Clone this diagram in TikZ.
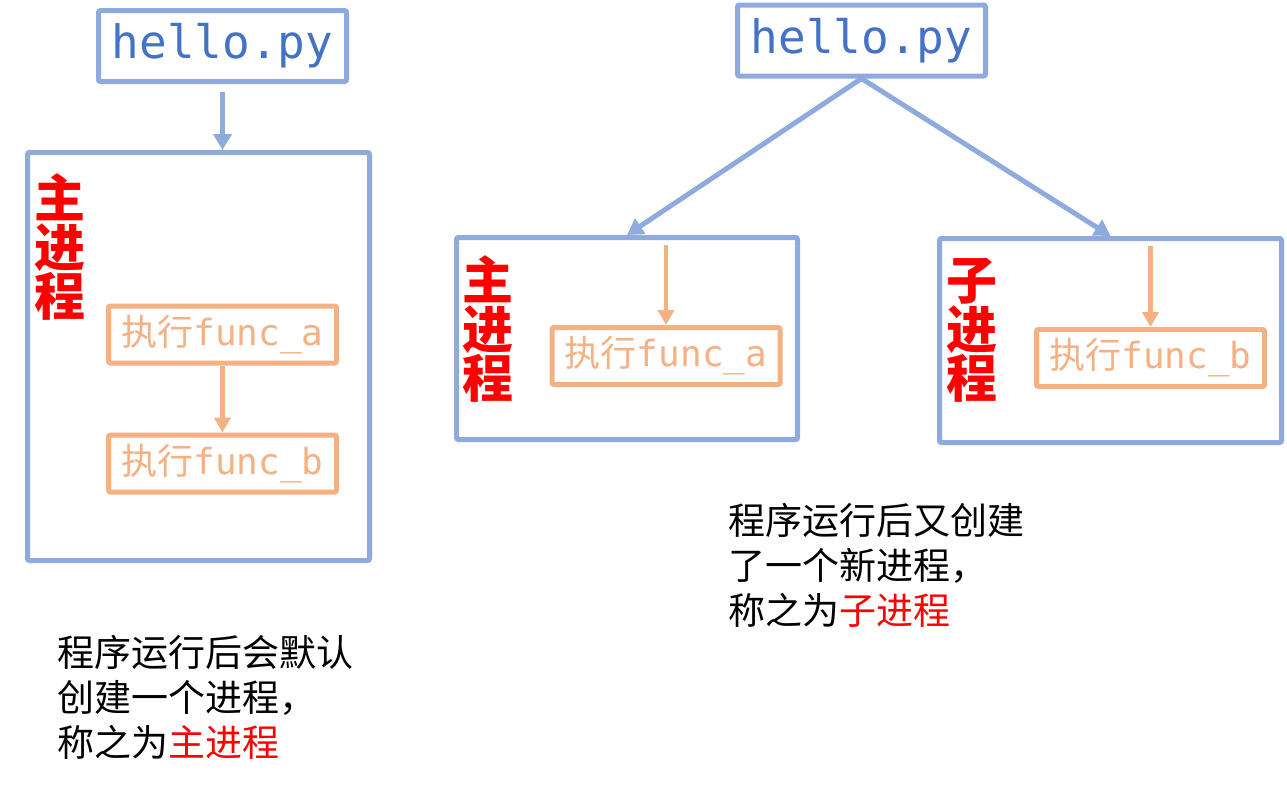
\documentclass[tikz,border=0pt]{standalone}
\usepackage{fontspec}
\setmonofont{DejaVu Sans Mono}
\newfontfamily\cjk{Noto Sans CJK SC}
\usetikzlibrary{arrows.meta}
\definecolor{bblue}{HTML}{8FAADC}
\definecolor{tblue}{HTML}{4472C4}
\definecolor{orng}{HTML}{F4B183}
\definecolor{pred}{HTML}{FF0000}
\begin{document}
\begin{tikzpicture}[x=1pt,y=-1pt,
 pbox/.style={draw=bblue, line width=5pt, rounded corners=2pt, inner sep=0pt},
 hbox/.style={pbox, minimum width=248pt, minimum height=71pt, font=\ttfamily\fontsize{46}{46}\selectfont, text=tblue},
 fnbox/.style={draw=orng, line width=5pt, rounded corners=2pt, inner sep=0pt, minimum width=228pt, minimum height=57pt, text=orng, font=\fontsize{36}{36}\selectfont},
 barrow/.style={draw=bblue, line width=5pt, -{Triangle[length=16pt,width=18pt]}},
 oarrow/.style={draw=orng, line width=4.5pt, -{Triangle[length=15pt,width=16pt]}},
 plabel/.style={text=pred, font=\cjk\bfseries\fontsize{51}{49}\selectfont, align=center, inner sep=0pt},
 note/.style={font=\cjk\fontsize{37}{45}\selectfont, align=left, inner sep=0pt, anchor=north west},
]
\useasboundingbox[fill=white] (0,0) rectangle (1287,788);

% left part
\node[hbox] (h1) at (222.5,46) {hello.py};
\node[pbox, minimum width=342pt, minimum height=408pt] (b1) at (198.5,356.5) {};
\node[plabel] (l1) at (60,247) {主\\进\\程};
\node[fnbox] (fa1) at (222.5,334.5) {{\cjk 执行}{\ttfamily func\_a}};
\node[fnbox] (fb1) at (222.5,463.5) {{\cjk 执行}{\ttfamily func\_b}};
\draw[barrow, shorten <=8pt] (h1.south) -- (h1.south |- b1.north);
\draw[oarrow] (fa1.south) -- (fb1.north);
\node[note] (n1) at (57,635) {程序运行后会默认\\创建一个进程，\\称之为\textcolor{pred}{主进程}};

% right part
\node[hbox] (h2) at (861.5,40.5) {hello.py};
\node[pbox, minimum width=341pt, minimum height=202pt] (m) at (627,338.5) {};
\node[pbox, minimum width=342pt, minimum height=204pt] (c) at (1110.5,340.5) {};
\node[plabel] (l2) at (488,329) {主\\进\\程};
\node[plabel] (l3) at (972,330) {子\\进\\程};
\node[fnbox] (fa2) at (666,356) {{\cjk 执行}{\ttfamily func\_a}};
\node[fnbox] (fb2) at (1150.5,358) {{\cjk 执行}{\ttfamily func\_b}};
\draw[barrow] (h2.south) -- (m.north);
\draw[barrow] (h2.south) -- (c.north);
\draw[oarrow, shorten <=10pt] (fa2.north |- m.north) -- (fa2.north);
\draw[oarrow, shorten <=10pt] (fb2.north |- c.north) -- (fb2.north);
\node[note] (n2) at (728,503) {程序运行后又创建\\了一个新进程，\\称之为\textcolor{pred}{子进程}};
\end{tikzpicture}
\end{document}
